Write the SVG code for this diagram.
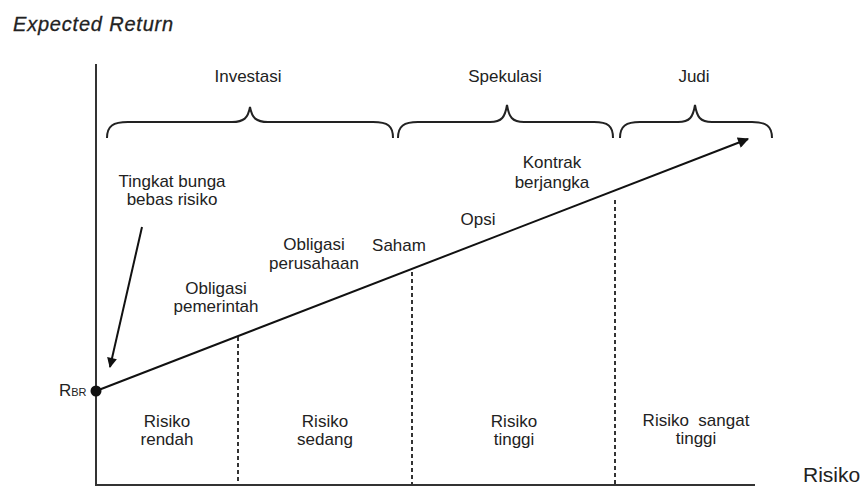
<svg xmlns="http://www.w3.org/2000/svg" width="866" height="486" viewBox="0 0 866 486">
<defs>
<style>
.t{font-family:"Liberation Sans",Arial,sans-serif;font-size:17px;fill:#222;text-anchor:middle}
.ln{stroke:#111;stroke-width:2;fill:none}
.ax{stroke:#333;stroke-width:2;fill:none}
.br{stroke:#222;stroke-width:2;fill:none}
.ds{stroke:#333;stroke-width:2;stroke-dasharray:4 3;fill:none}
</style>
<marker id="ah" viewBox="0 0 10 10" refX="9" refY="5" markerWidth="8" markerHeight="5.5" markerUnits="strokeWidth" orient="auto">
<path d="M0,0 L10,5 L0,10 Z" fill="#111"/>
</marker>
<marker id="ah2" viewBox="0 0 10 10" refX="9" refY="5" markerWidth="7" markerHeight="5" markerUnits="strokeWidth" orient="auto">
<path d="M0,0 L10,5 L0,10 Z" fill="#111"/>
</marker>
</defs>
<rect width="866" height="486" fill="#fff"/>
<g id="axes">
<line class="ax" x1="96" y1="64" x2="96" y2="486"/>
<line class="ax" x1="96" y1="485" x2="755" y2="485"/>
<text x="13" y="31" style="font-family:'Liberation Sans',Arial,sans-serif;font-size:20px;font-style:italic;fill:#222;stroke:#222;stroke-width:0.3;letter-spacing:0.8px">Expected Return</text>
<text x="803" y="482" style="font-family:'Liberation Sans',Arial,sans-serif;font-size:21px;fill:#222">Risiko</text>
</g>
<g id="braces">
<path class="br" d="M107,138 C107,126 113,122 128,122 L232,122 C244,122 248,118 250,107 C252,118 256,122 268,122 L373,122 C388,122 393,126 393,138"/>
<path class="br" d="M398,138 C398,126 404,122 418,122 L490,122 C502,122 505,117 507,105 C509,117 512,122 524,122 L594,122 C608,122 613,126 613,138"/>
<path class="br" d="M620,138 C620,126 626,122 640,122 L678,122 C690,122 693,117 695,105 C697,117 700,122 712,122 L752,122 C766,122 772,126 772,138"/>
</g>
<g id="group-labels">
<text class="t" x="248" y="82">Investasi</text>
<text class="t" x="505" y="82">Spekulasi</text>
<text class="t" x="694" y="82">Judi</text>
</g>
<g id="connectors">
<line class="ln" x1="96" y1="391" x2="748" y2="139" marker-end="url(#ah)"/>
<line class="ln" x1="142" y1="227" x2="110" y2="367" marker-end="url(#ah2)"/>
<line class="ds" x1="238" y1="337" x2="238" y2="485"/>
<line class="ds" x1="412" y1="272" x2="412" y2="485"/>
<line class="ds" x1="615" y1="200" x2="615" y2="485"/>
</g>
<g id="rbr">
<circle cx="96" cy="391" r="5.5" fill="#111"/>
<text x="59" y="396" style="font-family:'Liberation Sans',Arial,sans-serif;font-size:17px;fill:#222">R<tspan style="font-size:11px">BR</tspan></text>
</g>
<g id="tingkat-bunga">
<text class="t" x="172" y="187">Tingkat bunga</text>
<text class="t" x="172" y="205">bebas risiko</text>
</g>
<g id="obligasi-pemerintah">
<text class="t" x="216" y="294">Obligasi</text>
<text class="t" x="216" y="312">pemerintah</text>
</g>
<g id="obligasi-perusahaan">
<text class="t" x="314" y="250">Obligasi</text>
<text class="t" x="314" y="269">perusahaan</text>
</g>
<g id="saham"><text class="t" x="399" y="251">Saham</text></g>
<g id="opsi"><text class="t" x="478" y="225">Opsi</text></g>
<g id="kontrak">
<text class="t" x="552" y="168">Kontrak</text>
<text class="t" x="552" y="188">berjangka</text>
</g>
<g id="risiko-rendah">
<text class="t" x="167" y="427">Risiko</text>
<text class="t" x="167" y="445">rendah</text>
</g>
<g id="risiko-sedang">
<text class="t" x="325" y="427">Risiko</text>
<text class="t" x="325" y="445">sedang</text>
</g>
<g id="risiko-tinggi">
<text class="t" x="514" y="427">Risiko</text>
<text class="t" x="514" y="445">tinggi</text>
</g>
<g id="risiko-sangat-tinggi">
<text class="t" x="696" y="426" xml:space="preserve">Risiko  sangat</text>
<text class="t" x="696" y="444">tinggi</text>
</g>
</svg>
